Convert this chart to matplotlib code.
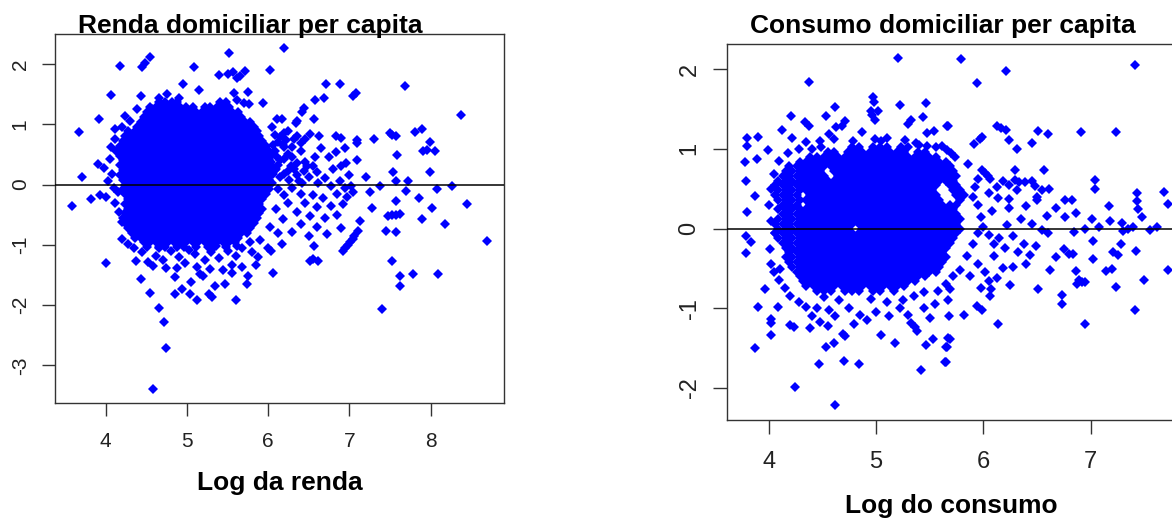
import numpy as np
import matplotlib.pyplot as plt

plt.rcParams['font.family'] = 'Liberation Sans'
plt.rcParams['axes.unicode_minus'] = False

# --- Renda: isolated points (log renda, residuo) ---
renda_pts = [
    (5.52, 2.18), (6.19, 2.26), (4.17, 1.97), (4.54, 2.11), (4.48, 2.01), (4.45, 1.94),
    (5.09, 1.94), (6.02, 1.90), (5.72, 1.88), (5.65, 1.80), (5.57, 1.86), (5.51, 1.84),
    (5.40, 1.82), (5.62, 1.76), (4.95, 1.66), (5.15, 1.56), (4.07, 1.49), (4.44, 1.46),
    (4.66, 1.44), (4.75, 1.50), (4.90, 1.43), (5.75, 1.53), (5.58, 1.51), (5.62, 1.40),
    (5.94, 1.35), (5.77, 1.33), (5.70, 1.35), (4.57, 1.26), (4.39, 1.26), (3.92, 1.08),
    (4.24, 1.14), (4.11, 0.92), (3.67, 0.87), (3.71, 0.13), (3.58, -0.35), (3.82, -0.24),
    (4.00, -0.21), (3.93, -0.18), (3.91, 0.34), (3.98, 0.28), (4.05, 0.42), (4.08, 0.18),
    (4.03, 0.05), (4.10, -0.05), (4.12, -0.30), (4.15, -0.12), (4.07, 0.62), (4.12, 0.75),
    (4.20, 0.95), (4.30, 1.05), (4.33, 0.72), (4.16, -0.45), (4.20, -0.62),
    (6.71, 1.66), (6.88, 1.66), (7.05, 1.47), (7.08, 1.51), (7.69, 1.63), (6.69, 1.44),
    (6.58, 1.40), (6.44, 1.27), (6.42, 1.21), (6.11, 1.09), (6.17, 1.09), (6.56, 1.09),
    (6.34, 1.02), (6.36, 1.05), (8.38, 1.16), (6.51, 0.83), (6.19, 0.86), (6.32, 0.75),
    (6.35, 0.80), (6.63, 0.81), (6.83, 0.80), (6.90, 0.77), (7.09, 0.73), (7.10, 0.68),
    (7.31, 0.75), (7.50, 0.85), (7.58, 0.80), (7.53, 0.82), (7.81, 0.87), (7.90, 0.92),
    (7.99, 0.71), (7.91, 0.55), (7.96, 0.58), (8.06, 0.56), (6.83, 0.54), (7.10, 0.41),
    (6.96, 0.35), (7.59, 0.49), (7.99, 0.21), (7.54, 0.20), (7.58, 0.05), (7.72, 0.05),
    (8.27, -0.03), (8.08, -0.08), (7.70, -0.10), (7.38, -0.03), (7.26, -0.13), (7.86, -0.23),
    (7.58, -0.27), (8.45, -0.33), (8.02, -0.39), (7.28, -0.39), (7.48, -0.53), (7.53, -0.50),
    (7.58, -0.50), (7.63, -0.49), (8.18, -0.65), (7.90, -0.58), (7.45, -0.77), (7.58, -0.79),
    (7.21, 0.13), (7.13, -0.61), (7.11, -0.77), (8.70, -0.94),
    (6.92, -1.10), (6.95, -1.05), (6.98, -1.00), (7.01, -0.95), (7.04, -0.90), (7.06, -0.86),
    (6.05, 0.95), (6.12, 0.70), (6.20, 0.62), (6.08, 0.55), (6.25, 0.50), (6.15, 0.40),
    (6.30, 0.45), (6.40, 0.55), (6.45, 0.38), (6.55, 0.30), (6.28, 0.30), (6.10, 0.25),
    (6.20, 0.18), (6.35, 0.15), (6.50, 0.12), (6.60, 0.20), (6.70, 0.10), (6.42, 0.02),
    (6.62, 0.02), (6.78, -0.02), (6.88, 0.05), (6.95, -0.05), (6.30, -0.05), (6.12, -0.08),
    (6.20, -0.18), (6.40, -0.15), (6.55, -0.18), (6.68, -0.22), (6.85, -0.15), (6.25, -0.30),
    (6.45, -0.30), (6.60, -0.38), (6.78, -0.35), (6.92, -0.32), (6.10, -0.40), (6.35, -0.45),
    (6.52, -0.52), (6.70, -0.55), (6.85, -0.50), (6.18, -0.58), (6.40, -0.65), (6.60, -0.70),
    (6.30, -0.78), (6.50, -0.85), (6.12, -0.80), (6.72, -0.82), (6.02, -0.70), (6.90, -0.72),
    (6.45, 0.75), (6.65, 0.60), (6.75, 0.45), (6.90, 0.30), (7.00, 0.15), (6.80, 0.25),
    (6.25, 0.88), (6.40, 0.68), (6.95, 0.60), (7.02, -0.02), (7.05, -0.12), (6.97, -0.20),
    (6.08, 0.82), (6.14, 0.78), (6.22, 0.74), (6.06, 0.66), (6.18, 0.66), (6.30, 0.63),
    (6.10, 0.48), (6.20, 0.42), (6.36, 0.35), (6.04, 0.38), (6.12, 0.32), (6.24, 0.22),
    (6.32, 0.25), (6.44, 0.22), (6.06, 0.18), (6.14, 0.12), (6.26, 0.08), (6.38, 0.06),
    (6.48, 0.30), (6.58, 0.45), (6.05, 0.02),
    (4.00, -1.30), (4.37, -1.27), (4.44, -1.56), (4.55, -1.80), (4.65, -2.04), (4.72, -2.28),
    (4.74, -2.71), (4.58, -3.39), (4.85, -1.82), (4.94, -1.73), (5.04, -1.82), (5.13, -1.92),
    (5.27, -1.82), (5.31, -1.86), (5.35, -1.68), (5.47, -1.65), (5.61, -1.92), (5.74, -1.65),
    (5.75, -1.51), (6.06, -1.47), (4.85, -1.54), (4.74, -1.39), (4.58, -1.35), (4.52, -1.28),
    (5.05, -1.62), (5.16, -1.49), (5.20, -1.52), (5.44, -1.42), (5.55, -1.33), (5.55, -1.47),
    (5.68, -1.37), (5.68, -1.05), (5.80, -1.12), (5.87, -1.20), (5.85, -1.33), (6.51, -1.27),
    (6.55, -1.23), (6.62, -1.26), (6.57, -1.02), (7.52, -1.27), (7.63, -1.51), (7.63, -1.68),
    (7.79, -1.48), (8.09, -1.48), (7.40, -2.07), (6.17, -0.99), (6.00, -1.05), (6.03, -1.10),
    (4.35, -1.05), (4.45, -1.12), (4.62, -1.18), (4.70, -1.25), (4.80, -1.10), (4.90, -1.20),
    (4.98, -1.30), (5.10, -1.15), (5.22, -1.25), (5.30, -1.12), (5.40, -1.22), (5.50, -1.10),
    (5.60, -1.18), (5.12, -1.36), (4.88, -1.38), (5.28, -1.40), (4.66, -1.05), (5.02, -1.08),
    (5.36, -1.02), (5.62, -1.02), (5.78, -0.95), (5.90, -0.92), (4.28, -0.98), (4.20, -0.90),
]

# --- Renda: dense centre, x values read along each residual level ---
renda_core_y = [1.36, 1.28, 1.20, 1.12, 1.04, 0.96, 0.88, 0.80, 0.72, 0.64, 0.56, 0.48,
                0.40, 0.32, 0.24, 0.16, 0.08, 0.00, -0.08, -0.16, -0.24, -0.32, -0.40,
                -0.48, -0.56, -0.64, -0.72, -0.80, -0.88, -0.96, -1.04]
renda_core_x = [
    "4.66 4.73 4.81 4.88 5.41 5.48",
    "4.54 4.62 4.69 4.77 4.84 4.92 4.99 5.07 5.22 5.29 5.37 5.44 5.52",
    "4.51 4.58 4.66 4.73 4.81 4.88 4.96 5.03 5.11 5.18 5.26 5.33 5.41 5.48 5.56 5.63",
    "4.47 4.54 4.62 4.69 4.77 4.84 4.92 4.99 5.07 5.14 5.22 5.29 5.37 5.44 5.52 5.59 5.67",
    "4.43 4.51 4.58 4.66 4.73 4.81 4.88 4.96 5.03 5.11 5.18 5.26 5.33 5.41 5.48 5.56 5.63 5.71 5.78",
    "4.39 4.47 4.54 4.62 4.69 4.77 4.84 4.92 4.99 5.07 5.14 5.22 5.29 5.37 5.44 5.52 5.59 5.67 5.74 5.82",
    "4.28 4.36 4.43 4.51 4.58 4.66 4.73 4.81 4.88 4.96 5.03 5.11 5.18 5.26 5.33 5.41 5.48 5.56 5.63 5.71 5.78 5.86",
    "4.24 4.32 4.39 4.47 4.54 4.62 4.69 4.77 4.84 4.92 4.99 5.07 5.14 5.22 5.29 5.37 5.44 5.52 5.59 5.67 5.74 5.82 5.89",
    "4.21 4.28 4.36 4.43 4.51 4.58 4.66 4.73 4.81 4.88 4.96 5.03 5.11 5.18 5.26 5.33 5.41 5.48 5.56 5.63 5.71 5.78 5.86 5.93",
    "4.17 4.24 4.32 4.39 4.47 4.54 4.62 4.69 4.77 4.84 4.92 4.99 5.07 5.14 5.22 5.29 5.37 5.44 5.52 5.59 5.67 5.74 5.82 5.89 5.97",
    "4.13 4.21 4.28 4.36 4.43 4.51 4.58 4.66 4.73 4.81 4.88 4.96 5.03 5.11 5.18 5.26 5.33 5.41 5.48 5.56 5.63 5.71 5.78 5.86 5.93 6.01",
    "4.17 4.24 4.32 4.39 4.47 4.54 4.62 4.69 4.77 4.84 4.92 4.99 5.07 5.14 5.22 5.29 5.37 5.44 5.52 5.59 5.67 5.74 5.82 5.89 5.97 6.04",
    "4.21 4.28 4.36 4.43 4.51 4.58 4.66 4.73 4.81 4.88 4.96 5.03 5.11 5.18 5.26 5.33 5.41 5.48 5.56 5.63 5.71 5.78 5.86 5.93 6.01",
    "4.17 4.24 4.32 4.39 4.47 4.54 4.62 4.69 4.77 4.84 4.92 4.99 5.07 5.14 5.22 5.29 5.37 5.44 5.52 5.59 5.67 5.74 5.82 5.89 5.97 6.04",
    "4.21 4.28 4.36 4.43 4.51 4.58 4.66 4.73 4.81 4.88 4.96 5.03 5.11 5.18 5.26 5.33 5.41 5.48 5.56 5.63 5.71 5.78 5.86 5.93 6.01 6.08",
    "4.17 4.24 4.32 4.39 4.47 4.54 4.62 4.69 4.77 4.84 4.92 4.99 5.07 5.14 5.22 5.29 5.37 5.44 5.52 5.59 5.67 5.74 5.82 5.89 5.97 6.04",
    "4.21 4.28 4.36 4.43 4.51 4.58 4.66 4.73 4.81 4.88 4.96 5.03 5.11 5.18 5.26 5.33 5.41 5.48 5.56 5.63 5.71 5.78 5.86 5.93 6.01",
    "4.24 4.32 4.39 4.47 4.54 4.62 4.69 4.77 4.84 4.92 4.99 5.07 5.14 5.22 5.29 5.37 5.44 5.52 5.59 5.67 5.74 5.82 5.89 5.97",
    "4.21 4.28 4.36 4.43 4.51 4.58 4.66 4.73 4.81 4.88 4.96 5.03 5.11 5.18 5.26 5.33 5.41 5.48 5.56 5.63 5.71 5.78 5.86 5.93 6.01",
    "4.24 4.32 4.39 4.47 4.54 4.62 4.69 4.77 4.84 4.92 4.99 5.07 5.14 5.22 5.29 5.37 5.44 5.52 5.59 5.67 5.74 5.82 5.89 5.97",
    "4.28 4.36 4.43 4.51 4.58 4.66 4.73 4.81 4.88 4.96 5.03 5.11 5.18 5.26 5.33 5.41 5.48 5.56 5.63 5.71 5.78 5.86 5.93",
    "4.24 4.32 4.39 4.47 4.54 4.62 4.69 4.77 4.84 4.92 4.99 5.07 5.14 5.22 5.29 5.37 5.44 5.52 5.59 5.67 5.74 5.82 5.89",
    "4.28 4.36 4.43 4.51 4.58 4.66 4.73 4.81 4.88 4.96 5.03 5.11 5.18 5.26 5.33 5.41 5.48 5.56 5.63 5.71 5.78 5.86 5.93",
    "4.24 4.32 4.39 4.47 4.54 4.62 4.69 4.77 4.84 4.92 4.99 5.07 5.14 5.22 5.29 5.37 5.44 5.52 5.59 5.67 5.74 5.82 5.89",
    "4.21 4.28 4.36 4.43 4.51 4.58 4.66 4.73 4.81 4.88 4.96 5.03 5.11 5.18 5.26 5.33 5.41 5.48 5.56 5.63 5.71 5.78 5.86",
    "4.24 4.32 4.39 4.47 4.54 4.62 4.69 4.77 4.84 4.92 4.99 5.07 5.14 5.22 5.29 5.37 5.44 5.52 5.59 5.67 5.74 5.82",
    "4.28 4.36 4.43 4.51 4.58 4.66 4.73 4.81 4.88 4.96 5.03 5.11 5.18 5.26 5.33 5.41 5.48 5.56 5.63 5.71 5.78",
    "4.32 4.39 4.47 4.54 4.62 4.69 4.77 4.84 4.92 4.99 5.07 5.14 5.22 5.29 5.37 5.44 5.52 5.59 5.67 5.74",
    "4.36 4.43 4.51 4.58 4.66 4.73 4.81 4.88 4.96 5.03 5.11 5.18 5.26 5.33 5.41 5.48 5.56 5.63",
    "4.47 4.54 4.62 4.69 4.77 4.84 4.92 4.99 5.07 5.14 5.22 5.29 5.37 5.44 5.52 5.59",
    "4.51 4.66 4.73 4.88 4.96 5.11 5.26 5.33 5.48",
]

# --- Consumo: isolated points (log consumo, residuo) ---
consumo_pts = [
    (5.21, 2.14), (4.38, 1.84), (4.97, 1.65), (4.98, 1.59), (4.95, 1.48), (5.02, 1.48),
    (4.96, 1.42), (4.99, 1.36), (5.22, 1.55), (5.47, 1.57), (4.62, 1.52), (4.21, 1.41),
    (4.53, 1.41), (4.34, 1.34), (4.38, 1.28), (4.12, 1.24), (3.80, 1.13), (3.80, 1.04),
    (3.90, 1.15), (3.99, 0.99), (3.78, 0.84), (3.89, 0.87), (3.79, 0.60), (3.87, 0.41),
    (3.80, 0.21), (4.22, 1.13), (4.35, 1.09), (4.48, 1.10), (4.49, 1.02), (4.56, 1.19),
    (4.61, 1.12), (4.63, 1.27), (4.68, 1.28), (4.71, 1.35), (4.87, 1.21), (4.79, 1.10),
    (4.99, 1.12), (5.05, 1.10), (5.10, 1.13), (5.27, 1.11), (5.30, 1.31), (5.33, 1.36),
    (5.44, 1.40), (5.37, 1.07), (5.40, 1.05), (5.48, 1.20), (5.54, 1.22), (5.66, 1.28),
    (5.48, 1.04), (5.56, 1.02), (5.62, 1.03), (5.66, 0.98),
    (5.79, 2.13), (5.94, 1.83), (6.21, 1.97), (7.41, 2.05), (5.67, 1.28), (6.13, 1.28),
    (6.17, 1.26), (6.21, 1.24), (6.51, 1.22), (6.60, 1.19), (6.91, 1.21), (7.24, 1.21),
    (5.91, 1.06), (5.97, 1.12), (5.99, 1.15), (6.24, 1.11), (6.31, 1.00), (6.45, 1.07),
    (5.70, 0.95), (5.74, 0.90), (5.86, 0.81), (6.30, 0.74), (6.57, 0.74), (5.99, 0.74),
    (6.02, 0.70), (6.04, 0.66), (6.06, 0.62), (7.04, 0.61), (7.04, 0.49), (7.43, 0.44),
    (7.43, 0.34), (7.44, 0.25), (7.48, 0.14), (7.68, 0.46), (7.72, 0.31), (7.17, 0.28),
    (6.76, 0.36), (6.83, 0.36), (7.01, 0.12), (7.08, 0.02), (7.18, 0.09), (7.29, 0.07),
    (7.62, 0.02), (6.68, 0.26), (6.59, 0.16), (6.76, 0.14), (6.86, 0.20), (6.30, 0.61),
    (6.33, 0.58), (6.39, 0.58), (6.45, 0.60), (6.48, 0.53), (6.55, 0.48), (6.61, 0.50),
    (6.50, 0.40), (6.50, 0.36), (6.13, 0.52), (6.18, 0.60), (6.24, 0.54), (6.31, 0.48),
    (6.14, 0.38), (6.24, 0.37), (6.24, 0.26), (6.40, 0.28), (6.35, 0.12), (6.45, 0.06),
    (6.55, -0.02), (6.22, 0.05), (6.05, 0.45), (5.95, 0.30), (5.98, 0.15), (5.92, 0.52),
    (6.08, 0.22), (6.00, 0.02), (5.90, 0.40), (5.95, 0.62),
    (7.02, -0.16), (7.28, -0.19), (7.42, -0.28), (7.21, -0.30), (7.26, -0.33), (7.02, -0.38),
    (7.72, -0.52), (7.50, -0.65), (7.24, -0.73), (7.14, -0.53), (7.20, -0.51), (7.41, -1.02),
    (6.95, -1.20), (6.86, -0.53), (6.89, -0.64), (6.92, -0.67), (6.95, -0.67), (6.87, -0.69),
    (6.73, -0.83), (6.73, -0.95), (6.62, -0.52), (6.68, -0.36), (6.75, -0.26), (6.80, -0.32),
    (6.84, -0.32), (6.51, -0.76), (6.14, -1.20), (6.25, -0.71), (6.07, -0.76), (6.06, -0.84),
    (5.98, -0.74), (5.94, -0.97), (5.99, -1.02), (5.82, -1.09), (5.69, -0.76), (5.67, -0.90),
    (5.68, -1.10), (5.69, -1.38), (5.66, -1.48), (5.65, -1.68), (6.13, -0.62), (6.05, -0.66),
    (6.44, -0.33), (6.49, -0.22), (6.38, -0.20), (6.60, -0.05), (6.85, -0.04), (6.95, 0.00),
    (7.35, 0.00), (7.30, -0.03), (7.55, -0.02), (7.40, 0.02), (6.28, -0.10), (6.15, -0.12),
    (6.32, -0.30), (6.20, -0.25), (6.10, -0.35), (6.40, -0.45), (6.28, -0.48), (6.18, -0.50),
    (5.95, -0.45), (5.90, -0.20), (5.95, -0.05), (6.05, -0.08), (6.10, -0.20), (6.02, -0.55),
    (5.88, -0.60), (5.85, -0.35),
    (3.79, -0.10), (3.84, -0.17), (3.79, -0.31), (4.01, -0.26), (4.02, -0.44), (4.11, -0.51),
    (3.97, -0.76), (3.90, -0.98), (4.09, -0.98), (4.02, -1.14), (4.02, -1.18), (4.02, -1.34),
    (3.87, -1.50), (4.20, -1.21), (4.24, -1.23), (4.39, -1.25), (4.48, -1.17), (4.53, -1.48),
    (4.61, -1.43), (4.47, -1.70), (4.70, -1.66), (4.84, -1.70), (4.25, -1.99), (4.62, -2.21),
    (4.69, -1.32), (4.71, -1.35), (5.05, -1.34), (5.18, -1.44), (5.33, -1.18), (5.36, -1.23),
    (5.38, -1.29), (5.42, -1.77), (5.47, -1.46), (5.53, -1.38), (5.64, -1.67), (5.65, -1.49),
    (5.67, -1.37),
    (4.20, -0.85), (4.28, -0.92), (4.35, -0.98), (4.45, -1.00), (4.56, -1.02), (4.62, -1.10),
    (4.75, -1.00), (4.85, -1.08), (4.92, -1.15), (5.00, -1.05), (5.12, -1.10), (5.22, -1.00),
    (5.30, -1.08), (5.45, -1.00), (5.55, -0.95), (5.50, -1.12), (4.80, -1.20), (4.55, -1.22),
    (4.40, -1.10), (5.25, -0.90), (5.35, -0.85), (5.45, -0.80), (5.58, -0.78), (5.65, -0.70),
    (5.72, -0.60), (5.78, -0.52), (4.15, -0.75), (4.10, -0.65), (4.05, -0.55), (4.06, -0.05),
    (4.02, 0.10), (4.00, 0.30), (4.02, 0.50), (4.05, 0.68), (4.10, 0.85), (4.18, 0.95),
    (4.28, 1.00), (4.40, 1.00), (4.52, -0.86), (4.66, -0.90), (4.95, -0.88), (5.10, -0.92),
]

# --- Consumo: dense centre, x values read along each residual level ---
consumo_core_y = [1.02, 0.96, 0.90, 0.84, 0.78, 0.72, 0.66, 0.60, 0.54, 0.48, 0.42, 0.36,
                  0.30, 0.24, 0.18, 0.12, 0.06, 0.00, -0.06, -0.12, -0.18, -0.24, -0.30,
                  -0.36, -0.42, -0.48, -0.54, -0.60, -0.66, -0.72, -0.78]
consumo_core_x = [
    "4.78 4.84 4.97 5.04 5.10 5.23 5.30",
    "4.55 4.61 4.74 4.81 4.87 4.94 5.00 5.07 5.13 5.20 5.26 5.39 5.46",
    "4.39 4.45 4.52 4.58 4.65 4.71 4.78 4.84 4.91 4.97 5.04 5.10 5.17 5.23 5.30 5.36 5.43 5.49 5.56",
    "4.29 4.35 4.42 4.48 4.55 4.61 4.68 4.74 4.81 4.87 4.94 5.00 5.07 5.13 5.20 5.26 5.33 5.39 5.46 5.52 5.59 5.65",
    "4.19 4.26 4.32 4.39 4.45 4.52 4.58 4.65 4.71 4.78 4.84 4.91 4.97 5.04 5.10 5.17 5.23 5.30 5.36 5.43 5.49 5.56 5.62 5.69",
    "4.16 4.22 4.29 4.35 4.42 4.48 4.61 4.68 4.74 4.81 4.87 4.94 5.00 5.07 5.13 5.20 5.26 5.33 5.39 5.46 5.52 5.59 5.65 5.72",
    "4.13 4.19 4.26 4.32 4.39 4.45 4.52 4.65 4.71 4.78 4.84 4.91 4.97 5.04 5.10 5.17 5.23 5.30 5.36 5.43 5.49 5.56 5.62 5.69 5.75",
    "4.09 4.16 4.22 4.29 4.35 4.42 4.48 4.55 4.61 4.68 4.74 4.81 4.87 4.94 5.00 5.07 5.13 5.20 5.26 5.33 5.39 5.46 5.52 5.59 5.65 5.72",
    "4.06 4.13 4.19 4.26 4.32 4.39 4.45 4.52 4.58 4.65 4.71 4.78 4.84 4.91 4.97 5.04 5.10 5.17 5.23 5.30 5.36 5.43 5.49 5.56 5.69 5.75",
    "4.09 4.16 4.22 4.29 4.35 4.42 4.48 4.55 4.61 4.68 4.74 4.81 4.87 4.94 5.00 5.07 5.13 5.20 5.26 5.33 5.39 5.46 5.52 5.72 5.78",
    "4.06 4.13 4.19 4.26 4.39 4.45 4.52 4.58 4.65 4.71 4.78 4.84 4.91 4.97 5.04 5.10 5.17 5.23 5.30 5.36 5.43 5.49 5.56 5.75 5.82",
    "4.09 4.16 4.22 4.29 4.35 4.42 4.48 4.55 4.61 4.68 4.74 4.81 4.87 4.94 5.00 5.07 5.13 5.20 5.26 5.33 5.39 5.46 5.52 5.59 5.78",
    "4.13 4.19 4.26 4.39 4.45 4.52 4.58 4.65 4.71 4.78 4.84 4.91 4.97 5.04 5.10 5.17 5.23 5.30 5.36 5.43 5.49 5.56 5.62 5.69 5.75",
    "4.09 4.16 4.22 4.29 4.35 4.42 4.48 4.55 4.61 4.68 4.74 4.81 4.87 4.94 5.00 5.07 5.13 5.20 5.26 5.33 5.39 5.46 5.52 5.59 5.65 5.72",
    "4.13 4.19 4.26 4.32 4.39 4.45 4.52 4.58 4.65 4.71 4.78 4.84 4.91 4.97 5.04 5.10 5.17 5.23 5.30 5.36 5.43 5.49 5.56 5.62 5.69 5.75",
    "4.09 4.16 4.22 4.29 4.35 4.42 4.48 4.55 4.61 4.68 4.74 4.81 4.87 4.94 5.00 5.07 5.13 5.20 5.26 5.33 5.39 5.46 5.52 5.59 5.65 5.72 5.78",
    "4.06 4.13 4.19 4.26 4.32 4.39 4.45 4.52 4.58 4.65 4.71 4.78 4.84 4.91 4.97 5.04 5.10 5.17 5.23 5.30 5.36 5.43 5.49 5.56 5.62 5.69 5.75",
    "4.09 4.16 4.22 4.29 4.35 4.42 4.48 4.55 4.61 4.68 4.74 4.87 4.94 5.00 5.07 5.13 5.20 5.26 5.33 5.39 5.46 5.52 5.59 5.65 5.72 5.78",
    "4.06 4.13 4.19 4.26 4.32 4.39 4.45 4.52 4.58 4.65 4.71 4.78 4.84 4.91 4.97 5.04 5.10 5.17 5.23 5.30 5.36 5.43 5.49 5.56 5.62 5.69 5.75",
    "4.09 4.16 4.22 4.29 4.35 4.42 4.48 4.55 4.61 4.68 4.74 4.81 4.87 4.94 5.00 5.07 5.13 5.20 5.26 5.33 5.39 5.46 5.52 5.59 5.65 5.72",
    "4.13 4.19 4.26 4.32 4.39 4.45 4.52 4.58 4.65 4.71 4.78 4.84 4.91 4.97 5.04 5.10 5.17 5.23 5.30 5.36 5.43 5.49 5.56 5.62 5.69",
    "4.16 4.22 4.29 4.35 4.42 4.48 4.55 4.61 4.68 4.74 4.81 4.87 4.94 5.00 5.07 5.13 5.20 5.26 5.33 5.39 5.46 5.52 5.59 5.65",
    "4.19 4.26 4.32 4.39 4.45 4.52 4.58 4.65 4.71 4.78 4.84 4.91 4.97 5.04 5.10 5.17 5.23 5.30 5.36 5.43 5.49 5.56 5.62",
    "4.16 4.22 4.29 4.35 4.42 4.48 4.55 4.61 4.68 4.74 4.81 4.87 4.94 5.00 5.07 5.13 5.20 5.26 5.33 5.39 5.46 5.52 5.59 5.65",
    "4.19 4.26 4.32 4.39 4.45 4.52 4.58 4.65 4.71 4.78 4.84 4.91 4.97 5.04 5.10 5.17 5.23 5.30 5.36 5.43 5.49 5.56 5.62",
    "4.22 4.29 4.35 4.42 4.48 4.55 4.61 4.68 4.74 4.81 4.87 4.94 5.00 5.07 5.13 5.20 5.26 5.33 5.39 5.46 5.52 5.59",
    "4.26 4.32 4.39 4.45 4.52 4.58 4.65 4.71 4.78 4.84 4.91 4.97 5.04 5.10 5.17 5.23 5.30 5.36 5.43 5.49 5.56",
    "4.29 4.35 4.42 4.48 4.55 4.61 4.68 4.74 4.81 4.87 4.94 5.00 5.07 5.13 5.20 5.26 5.33 5.39 5.46",
    "4.32 4.39 4.45 4.52 4.58 4.65 4.71 4.78 4.84 4.91 4.97 5.04 5.10 5.17 5.23 5.30 5.36",
    "4.35 4.42 4.48 4.55 4.61 4.68 4.74 4.81 4.87 4.94 5.00 5.07 5.13 5.20 5.26",
    "4.45 4.52 4.58 4.71 4.78 4.84 4.97 5.04 5.17",
]

renda_xticks = [4, 5, 6, 7, 8]
renda_yticks = [-3, -2, -1, 0, 1, 2]
consumo_xticks = [4, 5, 6, 7]
consumo_yticks = [-2, -1, 0, 1, 2]


def collect(pts, levels, rows):
    xs = [p[0] for p in pts]
    ys = [p[1] for p in pts]
    for lev, row in zip(levels, rows):
        vals = [float(v) for v in row.split()]
        xs += vals
        ys += [lev] * len(vals)
    return np.array(xs), np.array(ys)


def draw_panel(ax, x, y, xticks, yticks, xlim, ylim, tick_size, tick_len):
    ax.plot(x, y, 'D', ms=5.3, color='#0000ff', mew=0, zorder=2)
    ax.axhline(0, color='black', lw=1.1, zorder=3)
    ax.set_xlim(*xlim)
    ax.set_ylim(*ylim)
    ax.set_xticks(xticks)
    ax.set_yticks(yticks)
    for s in ax.spines.values():
        s.set_color('#333333')
        s.set_linewidth(1.0)
    ax.tick_params(length=tick_len, width=1.0, color='#333333',
                   labelsize=tick_size, labelcolor='#222222')
    for lab in ax.get_yticklabels():
        lab.set_rotation(90)
        lab.set_va('center')


fig = plt.figure(figsize=(11.72, 5.18), dpi=100)

# left panel
ax1 = fig.add_axes([55 / 1172, 115.3 / 518, 449 / 1172, 368.7 / 518])
rx, ry = collect(renda_pts, renda_core_y, renda_core_x)
draw_panel(ax1, rx, ry, renda_xticks, renda_yticks, (3.375, 8.905), (-3.617, 2.495), 15, 9.1)
ax1.tick_params(axis='x', pad=12)
ax1.tick_params(axis='y', pad=9)
ax1.set_title('Renda domiciliar per capita', fontsize=19, fontweight='bold',
              x=0.434, y=1.003, pad=0)
ax1.set_xlabel('Log da renda', fontsize=19, fontweight='bold', va='baseline')
ax1.xaxis.set_label_coords(0.5, -0.2368)

# right panel
ax2 = fig.add_axes([727 / 1172, 97.7 / 518, 458 / 1172, 376.3 / 518])
cx, cy = collect(consumo_pts, consumo_core_y, consumo_core_x)
draw_panel(ax2, cx, cy, consumo_xticks, consumo_yticks, (3.612, 7.88), (-2.405, 2.314), 17, 10)
ax2.tick_params(axis='x', pad=12)
ax2.tick_params(axis='y', pad=9)
ax2.set_title('Consumo domiciliar per capita', fontsize=19, fontweight='bold',
              x=0.4716, y=1.029, pad=0)
ax2.set_xlabel('Log do consumo', fontsize=19, fontweight='bold', va='baseline')
ax2.xaxis.set_label_coords(0.4906, -0.2463)

fig.savefig('out.png', dpi=100)
